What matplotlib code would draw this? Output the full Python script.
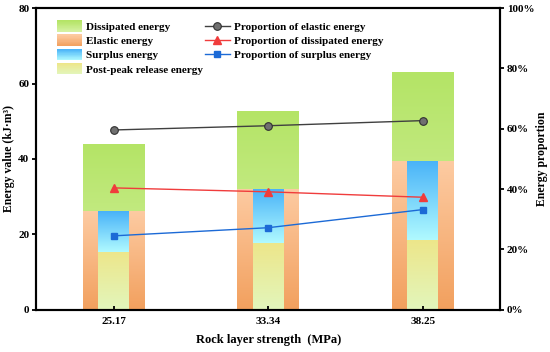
import numpy as np
import matplotlib.pyplot as plt
from matplotlib.colors import LinearSegmentedColormap
from matplotlib.legend_handler import HandlerBase
from matplotlib.patches import Rectangle

plt.rcParams['font.family'] = ['Liberation Serif', 'DejaVu Serif']
plt.rcParams['font.weight'] = 'bold'
plt.rcParams['axes.labelweight'] = 'bold'

strength = ["25.17", "33.34", "38.25"]
dissipated_total = [44.0, 52.7, 63.0]    # total input energy (top of green bar)
elastic = [26.2, 32.1, 39.5]
post_peak = [15.4, 17.6, 18.5]
elastic_pct = [59.6, 61.0, 62.7]
dissipated_pct = [40.4, 39.1, 37.3]
surplus_pct = [24.5, 27.2, 33.2]

# (top colour, bottom colour)
grad = {
    "Dissipated energy": ("#b4e466", "#d6f2a4"),
    "Elastic energy": ("#fdcba2", "#f2a05e"),
    "Surplus energy": ("#48b2f8", "#b0faff"),
    "Post-peak release energy": ("#ede68a", "#e2f6bc"),
}


def gradient_bar(ax, x, bottom, top, width, colors):
    bar = ax.bar(x, top - bottom, width, bottom=bottom, color="none",
                 edgecolor="none", zorder=2)[0]
    cmap = LinearSegmentedColormap.from_list("g", [colors[1], colors[0]])
    img = ax.imshow(np.linspace(0, 1, 256).reshape(-1, 1), cmap=cmap,
                    origin="lower", aspect="auto",
                    extent=(x - width / 2, x + width / 2, bottom, top),
                    zorder=2, interpolation="bilinear")
    img.set_clip_path(bar)


class GradientHandler(HandlerBase):
    def __init__(self, colors):
        super().__init__()
        self.colors = colors

    def create_artists(self, legend, orig_handle, xdescent, ydescent,
                       width, height, fontsize, trans):
        cmap = LinearSegmentedColormap.from_list("g", [self.colors[1], self.colors[0]])
        n = 20
        h = height * 1.15
        y0 = -ydescent - (h - height) / 2
        arts = []
        for i in range(n):
            r = Rectangle((-xdescent, y0 + h * i / n), width, h / n + 0.2,
                          facecolor=cmap(i / (n - 1)), edgecolor="none",
                          transform=trans)
            arts.append(r)
        return arts


fig, ax = plt.subplots(figsize=(5.5, 3.52), dpi=100)
fig.subplots_adjust(left=0.066, right=0.909, top=0.977, bottom=0.12)
x = np.arange(len(strength))

for i in x:
    gradient_bar(ax, i, 0, dissipated_total[i], 0.4, grad["Dissipated energy"])
    gradient_bar(ax, i, 0, elastic[i], 0.4, grad["Elastic energy"])
    gradient_bar(ax, i, post_peak[i], elastic[i], 0.2, grad["Surplus energy"])
    gradient_bar(ax, i, 0, post_peak[i], 0.2, grad["Post-peak release energy"])

ax.set_xlim(-0.5, 2.5)
ax.set_ylim(0, 80)
ax.set_yticks([0, 20, 40, 60, 80])
ax.set_xticks(x)
ax.set_xticklabels(strength)
ax.set_xlabel("Rock layer strength  (MPa)", fontsize=9, labelpad=6)
ax.set_ylabel("Energy value (kJ·m³)", fontsize=8.5, labelpad=2)
ax.tick_params(axis="y", direction="out", width=1.3, length=3, labelsize=8, pad=2)
ax.tick_params(axis="x", direction="in", width=1.3, length=3, labelsize=8, pad=5)
ax.xaxis.set_zorder(3)
for s in ax.spines.values():
    s.set_linewidth(1.5)

ax2 = ax.twinx()
ax2.set_ylim(0, 100)
ax2.set_yticks(range(0, 101, 20))
ax2.set_yticklabels([f"{v}%" for v in range(0, 101, 20)])
ax2.set_ylabel("Energy proportion", fontsize=8.5, labelpad=1)
ax2.tick_params(direction="out", width=1.3, length=3, labelsize=8, pad=2)
for s in ax2.spines.values():
    s.set_linewidth(1.5)

l1, = ax2.plot(x, elastic_pct, "-o", color="#404040", lw=1, ms=5.5,
               mfc="#707070", mec="#303030", mew=0.8,
               label="Proportion of elastic energy")
l2, = ax2.plot(x, dissipated_pct, "-^", color="#f03c3c", lw=1, ms=6,
               label="Proportion of dissipated energy")
l3, = ax2.plot(x, surplus_pct, "-s", color="#1c6ad6", lw=1, ms=5,
               label="Proportion of surplus energy")

names = list(grad.keys())
handles = [Rectangle((0, 0), 1, 1) for _ in names]
leg1 = ax2.legend(handles, names, loc="upper left", bbox_to_anchor=(0.031, 0.978),
                  frameon=False, fontsize=8, handlelength=2.2, handleheight=1.0,
                  labelspacing=0.3, handletextpad=0.4, borderaxespad=0.2,
                  handler_map={h: GradientHandler(grad[n]) for h, n in zip(handles, names)})
ax2.add_artist(leg1)
ax2.legend([l1, l2, l3], [l.get_label() for l in (l1, l2, l3)], loc="upper left",
           bbox_to_anchor=(0.35, 0.978), frameon=False, fontsize=8,
           handlelength=2.2, handleheight=1.0, labelspacing=0.3,
           handletextpad=0.4, borderaxespad=0.2)

fig.savefig("out.png", dpi=100)
